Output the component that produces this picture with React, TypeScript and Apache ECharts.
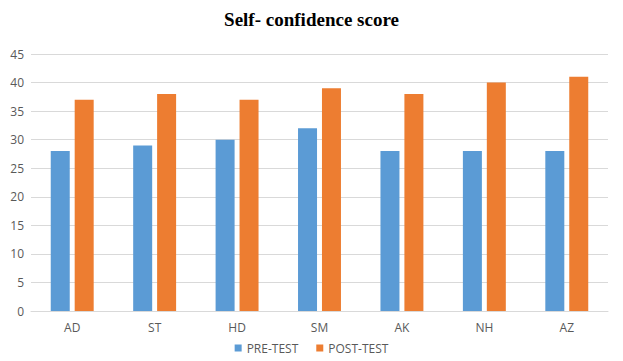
import React, { useEffect, useRef } from "react";
import * as echarts from "echarts";

const categories = ["AD", "ST", "HD", "SM", "AK", "NH", "AZ"];
const preTest = [28, 29, 30, 32, 28, 28, 28];
const postTest = [37, 38, 37, 39, 38, 40, 41];
const yTicks = { min: 0, max: 45, interval: 5 };

export default function App() {
  const ref = useRef<HTMLDivElement>(null);
  useEffect(() => {
    const chart = echarts.init(ref.current!, null, { renderer: "svg" });
    const labelFont = "'Open Sans', 'Noto Sans', sans-serif";
    chart.setOption({
      animation: false,
      backgroundColor: "#ffffff",
      title: {
        text: "Self- confidence score",
        left: "center",
        top: 5,
        textStyle: {
          fontFamily: "'Liberation Serif', 'DejaVu Serif', serif",
          fontWeight: "bold",
          fontSize: 19,
          color: "#000000",
        },
      },
      legend: {
        bottom: 2,
        left: "center",
        itemWidth: 7,
        itemHeight: 7,
        itemGap: 18,
        icon: "rect",
        textStyle: { fontFamily: labelFont, fontSize: 12, color: "#595959" },
        data: ["PRE-TEST", "POST-TEST"],
      },
      grid: { left: 31, right: 15, top: 54, bottom: 50, containLabel: false },
      xAxis: {
        type: "category",
        data: categories,
        axisLine: { lineStyle: { color: "#d9d9d9" } },
        axisTick: { show: false },
        axisLabel: { color: "#595959", fontFamily: labelFont, fontSize: 12, margin: 10 },
      },
      yAxis: {
        type: "value",
        min: yTicks.min,
        max: yTicks.max,
        interval: yTicks.interval,
        axisLine: { show: false },
        axisTick: { show: false },
        splitLine: { lineStyle: { color: "#d9d9d9" } },
        axisLabel: { color: "#595959", fontFamily: labelFont, fontSize: 12, margin: 7 },
      },
      series: [
        {
          name: "PRE-TEST",
          type: "bar",
          data: preTest,
          barWidth: 19,
          barGap: "26%",
          itemStyle: { color: "#5b9bd5" },
        },
        {
          name: "POST-TEST",
          type: "bar",
          data: postTest,
          barWidth: 19,
          barGap: "26%",
          itemStyle: { color: "#ed7d31" },
        },
      ],
    });
    return () => chart.dispose();
  }, []);
  return (
    <div
      ref={ref}
      style={{ position: "fixed", left: 0, top: 0, width: 623, height: 361 }}
    />
  );
}
